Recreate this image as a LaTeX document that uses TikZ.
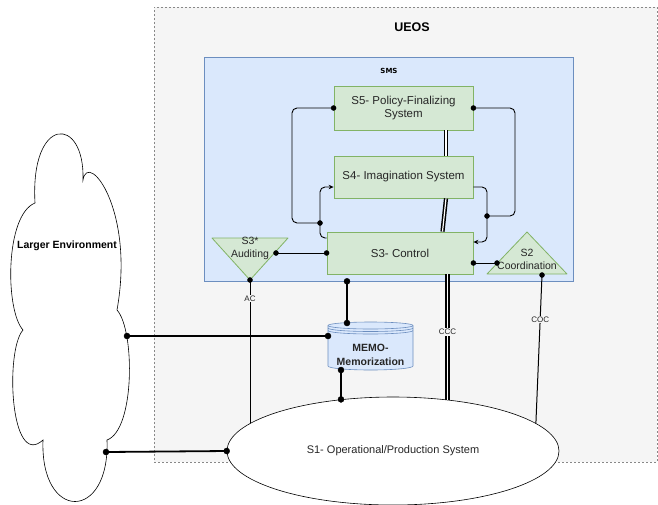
\documentclass[tikz,border=0pt]{standalone}
\usepackage{fontspec}
\setmainfont{Liberation Sans}
\newfontfamily\smsfont{DejaVu Sans}
\usetikzlibrary{shapes.geometric,arrows.meta}

\definecolor{bggray}{HTML}{F5F5F5}
\definecolor{edgegray}{HTML}{888888}
\definecolor{smsblue}{HTML}{DAE8FC}
\definecolor{smsedge}{HTML}{6C8EBF}
\definecolor{sysgreen}{HTML}{D5E8D4}
\definecolor{sysedge}{HTML}{82B366}

\tikzset{
  sysbox/.style={draw=sysedge, fill=sysgreen, line width=0.8pt, align=center,
    inner sep=2pt, text=black!85, font=\fontsize{11.5}{13.5}\selectfont},
  tri/.style={draw=sysedge, fill=sysgreen, line width=0.8pt, line join=round},
  trilabel/.style={align=center, text=black!85, font=\fontsize{10.5}{13}\selectfont},
  link/.style={line width=0.9pt, rounded corners=5pt},
  heavy/.style={line width=1.8pt},
  channel/.style={line width=1.5pt, double distance=1.2pt},
  tag/.style={fill=bggray, inner sep=1pt, text=black!85, font=\fontsize{8}{9}\selectfont},
}

\begin{document}
\begin{tikzpicture}[x=1pt, y=-1pt, >={Stealth[length=5pt,width=4.5pt]}]
    \useasboundingbox (0,0) rectangle (658,504);

    % UEOS container
    \node[draw=edgegray, fill=bggray, dash pattern=on 2pt off 2pt, inner sep=0pt,
          minimum width=503pt, minimum height=455pt] (ueos) at (405.5,234.5) {};
    \node[font=\bfseries\fontsize{12.5}{14}\selectfont] (ueos-t) at (412,27) {UEOS};

    % SMS container
    \node[draw=smsedge, fill=smsblue, line width=0.6pt, inner sep=0pt,
          minimum width=369pt, minimum height=224pt] (sms) at (388.5,169) {};
    \node[font=\smsfont\bfseries\fontsize{7}{8}\selectfont] (sms-t) at (389,71) {SMS};

    % Systems 5, 4, 3
    \node[sysbox, minimum width=139pt, minimum height=44pt] (s5) at (403.5,108) {S5- Policy-Finalizing\\System};
    \node[sysbox, minimum width=139pt, minimum height=42pt] (s4) at (403.5,177) {S4- Imagination System};
    \node[sysbox, minimum width=146pt, minimum height=42pt] (s3) at (400,253) {S3- Control};

    % S3* auditing (triangle pointing down)
    \coordinate (aud-l) at (212,238);
    \coordinate (aud-r) at (288,238);
    \coordinate (aud-b) at (250,280);
    \coordinate (aud-e) at (276,253);
    \filldraw[tri] (aud-l) -- (aud-r) -- (aud-b) -- cycle;
    \node[trilabel] (aud) at (250,248.5) {S3*\\Auditing};

    % S2 coordination (triangle pointing up)
    \coordinate (coord-t) at (527,232);
    \coordinate (coord-bl) at (487,274);
    \coordinate (coord-br) at (567,274);
    \coordinate (coord-l) at (497,263);
    \coordinate (coord-b) at (542,275);
    \filldraw[tri] (coord-t) -- (coord-br) -- (coord-bl) -- cycle;
    \node[trilabel] (coord) at (527,259.5) {S2\\Coordination};

    % Larger environment cloud
    \filldraw[fill=white, line width=0.6pt] (35,203)
        .. controls (30,115) and (85,115) .. (83,180)
        .. controls (88,150) and (135,210) .. (117,310)
        .. controls (135,330) and (135,430) .. (107,440)
        .. controls (110,522) and (40,522) .. (43,440)
        .. controls (10,470) and (5,350) .. (23,330)
        .. controls (5,310) and (5,215) .. (35,203) -- cycle;
    \node[font=\bfseries\fontsize{10.5}{12}\selectfont] (env) at (67,246) {Larger Environment};
    \coordinate (env-a) at (127,336);
    \coordinate (env-b) at (106,452);

    % MEMO store
    \filldraw[fill=smsblue, draw=smsedge, line width=0.6pt] (328,325.5) -- (328,366)
        arc[start angle=180, end angle=360, x radius=42.5pt, y radius=4pt] -- (413,325.5)
        arc[start angle=0, end angle=180, x radius=42.5pt, y radius=3.5pt] -- cycle;
    \draw[draw=smsedge, line width=0.6pt]
        (328,325.5) arc[start angle=180, end angle=360, x radius=42.5pt, y radius=3.5pt]
        (328,328) arc[start angle=180, end angle=360, x radius=42.5pt, y radius=3.5pt]
        (328,330.5) arc[start angle=180, end angle=360, x radius=42.5pt, y radius=3.5pt];
    \node[align=center, font=\bfseries\fontsize{10.5}{14}\selectfont, text=black!85] (memo) at (370.5,355) {MEMO-\\Memorization};
    \coordinate (memo-t) at (347,323);
    \coordinate (memo-l) at (328,336);
    \coordinate (memo-b) at (341,370);

    % S1 operations
    \node[ellipse, draw, fill=white, line width=0.6pt, inner sep=0pt, minimum width=332pt,
          minimum height=108pt, text=black!85, font=\fontsize{11}{13}\selectfont] (s1) at (393,451) {S1- Operational/Production System};

    % Links inside SMS
    \coordinate (jn-l) at (320,223);
    \coordinate (jn-r) at (487,216);
    \draw[link] (s5.west) -| ([xshift=-28pt]jn-l) -- (jn-l);
    \draw[link, ->] ([yshift=15pt]s3.west) -| (jn-l) |- ([yshift=-10pt]s4.west);
    \draw[link] (s5.east) -| ([xshift=28pt]jn-r) -- (jn-r);
    \draw[link, ->] ([yshift=-10pt]s4.east) -| (jn-r) |- ([yshift=11pt]s3.east);
    \draw[link] ([yshift=-10pt]s3.east) -- (coord-l);
    \draw[link] (s3.west) -- (aud-e);

    % Command channel (double lines)
    \coordinate (ccc-t) at ([xshift=47.5pt]s3.south);
    \draw[channel] ([xshift=42.5pt]s5.south) -- ([xshift=42.5pt]s4.north);
    \draw[channel] ([xshift=42.5pt]s4.south) -- ([xshift=42.5pt]s3.north);
    \draw[channel] (ccc-t) -- (ccc-t |- s1.43) node[tag, pos=0.46] (ccc) {CCC};

    % Audit and coordination channels
    \draw[line width=1pt] (aud-b) -- (aud-b |- s1.169) node[tag, pos=0.13] (ac) {AC};
    \draw[line width=1pt] (coord-b) -- (s1.11) node[tag, pos=0.30] (coc) {COC};

    % Heavy links
    \draw[heavy] (sms.south -| memo-t) -- (memo-t);
    \draw[heavy] (env-a) -- (memo-l);
    \draw[heavy] (memo-b) -- (memo-b |- s1.135);
    \draw[heavy] (env-b) -- (s1.west);

    % Dots
    \filldraw (s5.west) circle (2.5pt) (jn-l) circle (2.5pt) (s5.east) circle (2.5pt)
        (jn-r) circle (2.5pt) ([yshift=-10pt]s3.east) circle (2.5pt) (coord-l) circle (2.5pt)
        (s3.west) circle (2.5pt) (aud-e) circle (2.5pt) (aud-b) circle (2.5pt)
        (coord-b) circle (2.5pt);
    \filldraw (sms.south -| memo-t) circle (3pt) (memo-t) circle (3pt) (env-a) circle (3pt)
        (memo-l) circle (3pt) (memo-b) circle (3pt) (memo-b |- s1.135) circle (3pt)
        (env-b) circle (3pt) (s1.west) circle (3pt);
\end{tikzpicture}
\end{document}
